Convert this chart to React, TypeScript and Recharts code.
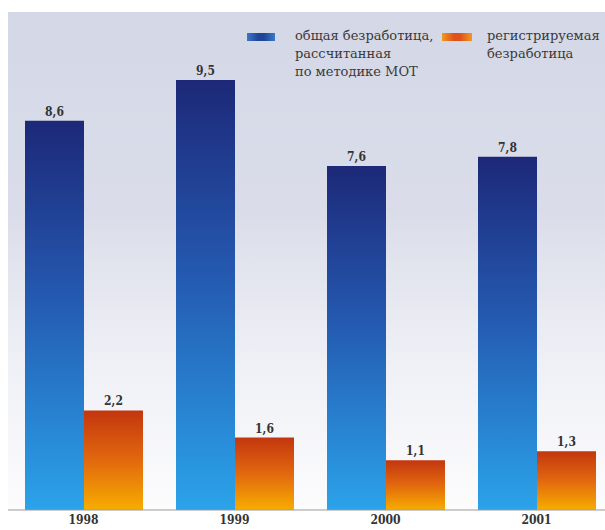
import { BarChart, Bar, XAxis, YAxis, CartesianGrid, Legend, LabelList } from "recharts";

const YEARS = ["1998", "1999", "2000", "2001"];
const ILO_RATE = [8.6, 9.5, 7.6, 7.8];
const REGISTERED_RATE = [2.2, 1.6, 1.1, 1.3];
const ILO_LINES = ["общая безработица,", "рассчитанная", "по методике МОТ"];
const REGISTERED_LINES = ["регистрируемая", "безработица"];
const BOUNDARY_TICKS = [1, 2, 3];

const data = YEARS.map((year, i) => ({
  year,
  ilo: ILO_RATE[i],
  registered: REGISTERED_RATE[i],
}));

const FONT = "DejaVu Serif";
const NUM_FONT = "'DejaVu Serif Condensed', 'DejaVu Serif'";
const fmt = (v: any) => Number(v).toFixed(1).replace(".", ",");
const numStyle = { fill: "#333", fontSize: 12, fontWeight: "bold", fontFamily: NUM_FONT, fontStretch: "condensed" };

const LegendContent = () => (
  <div style={{ display: "flex", fontFamily: FONT, fontSize: 13, lineHeight: "18px", color: "#3a3a3a" }}>
    <div style={{ display: "flex", width: 195 }}>
      <span
        style={{
          width: 28,
          height: 8,
          marginTop: 6,
          marginRight: 20,
          flexShrink: 0,
          background: "linear-gradient(90deg, #3a78c8, #1f4596 40%, #1f4596 60%, #3a78c8)",
        }}
      />
      <span>
        {ILO_LINES.map((l) => (
          <div key={l}>{l}</div>
        ))}
      </span>
    </div>
    <div style={{ display: "flex" }}>
      <span
        style={{
          width: 30,
          height: 8,
          marginTop: 6,
          marginRight: 15,
          flexShrink: 0,
          background: "linear-gradient(90deg, #f09a20, #e0501a 40%, #e0501a 60%, #f09a20)",
        }}
      />
      <span>
        {REGISTERED_LINES.map((l) => (
          <div key={l}>{l}</div>
        ))}
      </span>
    </div>
  </div>
);

export default function App() {
  return (
    <div
      style={{
        position: "absolute",
        left: 0,
        top: 0,
        width: 605,
        height: 530,
        overflow: "hidden",
        background: "#fff",
        fontFamily: FONT,
      }}
    >
      <BarChart
        width={612}
        height={530}
        data={data}
        margin={{ top: 12, right: 0, left: 8, bottom: 0 }}
        barGap={0}
        barSize={59}
      >
        <defs>
          <linearGradient id="bgGrad" x1="0" y1="0" x2="0" y2="1">
            <stop offset="0%" stopColor="#d4d7e6" />
            <stop offset="40%" stopColor="#dadde9" />
            <stop offset="70%" stopColor="#eff0f6" />
            <stop offset="100%" stopColor="#fcfcfd" />
          </linearGradient>
          <linearGradient id="blueGrad" x1="0" y1="0" x2="0" y2="1">
            <stop offset="0%" stopColor="#1d2878" />
            <stop offset="45%" stopColor="#2459b0" />
            <stop offset="100%" stopColor="#2ba3ea" />
          </linearGradient>
          <linearGradient id="orangeGrad" x1="0" y1="0" x2="0" y2="1">
            <stop offset="0%" stopColor="#c3360e" />
            <stop offset="50%" stopColor="#e2680e" />
            <stop offset="100%" stopColor="#f7ad00" />
          </linearGradient>
        </defs>
        <CartesianGrid horizontal={false} vertical={false} fill="url(#bgGrad)" />
        <XAxis
          xAxisId="bounds"
          type="number"
          domain={[0, 4]}
          ticks={BOUNDARY_TICKS}
          tick={false}
          axisLine={false}
          tickLine={{ stroke: "#9a9a9a" }}
          tickSize={4}
          height={0}
        />
        <XAxis
          dataKey="year"
          height={20}
          tickLine={false}
          tickSize={4}
          tickMargin={1}
          axisLine={{ stroke: "#9a9a9a" }}
          tick={numStyle}
        />
        <YAxis domain={[0, 11]} width={0} tick={false} tickLine={false} axisLine={{ stroke: "#c3c6d2" }} />
        <Legend
          verticalAlign="middle"
          align="center"
          content={<LegendContent />}
          wrapperStyle={{ position: "absolute", top: 27, left: 247, width: 360 }}
        />
        <Bar dataKey="ilo" name={ILO_LINES.join(" ")} fill="url(#blueGrad)" isAnimationActive={false}>
          <LabelList dataKey="ilo" position="top" offset={5} formatter={fmt} style={numStyle} />
        </Bar>
        <Bar dataKey="registered" name={REGISTERED_LINES.join(" ")} fill="url(#orangeGrad)" isAnimationActive={false}>
          <LabelList dataKey="registered" position="top" offset={5} formatter={fmt} style={numStyle} />
        </Bar>
      </BarChart>
    </div>
  );
}
